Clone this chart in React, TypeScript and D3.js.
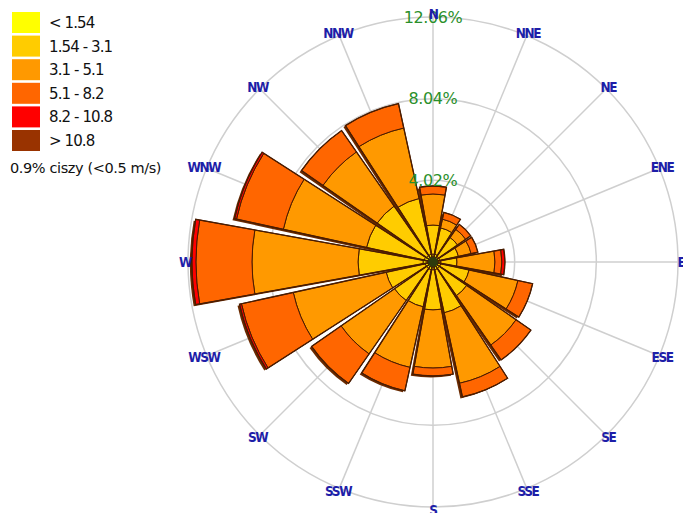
import React from "react";
import * as d3 from "d3";

const DIRECTIONS = ["N", "NNE", "NE", "ENE", "E", "ESE", "SE", "SSE", "S", "SSW", "SW", "WSW", "W", "WNW", "NW", "NNW"];
const SPEED_CLASSES = ["< 1.54", "1.54 - 3.1", "3.1 - 5.1", "5.1 - 8.2", "8.2 - 10.8", "> 10.8"];
const CLASS_COLORS = ["#FFFF00", "#FFCC00", "#FF9900", "#FF6600", "#FF0000", "#993300"];

// percent frequency per direction for each speed class
const s_lt154 = [0.39, 0.39, 0.34, 0.34, 0.39, 0.39, 0.39, 0.39, 0.39, 0.39, 0.39, 0.39, 0.49, 0.44, 0.39, 0.39];
const s_154_31 = [1.43, 1.33, 1.13, 0.94, 0.79, 1.43, 1.63, 2.17, 1.97, 1.87, 1.92, 1.97, 3.2, 2.91, 2.96, 2.81];
const s_31_51 = [1.53, 0.44, 0.49, 0.64, 1.87, 2.46, 2.96, 3.55, 2.86, 3.05, 3.2, 4.68, 5.22, 4.19, 3.25, 3.55];
const s_51_82 = [0.39, 0.34, 0.3, 0.34, 0.34, 0.74, 0.89, 0.69, 0.39, 1.18, 1.77, 2.61, 2.76, 2.36, 1.28, 1.23];
const s_82_108 = [0, 0, 0, 0, 0.15, 0, 0, 0, 0, 0, 0, 0.1, 0.2, 0.1, 0, 0];
const s_gt108 = [0, 0, 0, 0, 0, 0, 0, 0, 0, 0, 0, 0, 0, 0, 0, 0];
const SERIES = [s_lt154, s_154_31, s_31_51, s_51_82, s_82_108, s_gt108];

const RING_VALUES = [4.02, 8.04, 12.06];
const RING_LABELS = ["4.02%", "8.04%", "12.06%"];
const CALM_TEXT = "0.9% ciszy (<0.5 m/s)";

const W = 683, H = 513;
const CX = 433, CY = 262;

export default function App() {
  const r = d3.scaleLinear().domain([0, 12.06]).range([0, 245]);
  const step = (2 * Math.PI) / DIRECTIONS.length;
  const hw = (10.2 * Math.PI) / 180;
  const arc = d3.arc<any>();

  const wedges: any[] = [];
  DIRECTIONS.forEach((d, i) => {
    let cum = 0;
    const a = i * step;
    SERIES.forEach((ser, k) => {
      const v = ser[i];
      if (v <= 0) return;
      wedges.push({ dir: i, k, a, r0: r(cum), r1: r(cum + v) });
      cum += v;
    });
  });
  const totals = DIRECTIONS.map((_, i) => SERIES.reduce((s, ser) => s + ser[i], 0));

  return (
    <svg width={W} height={H} style={{ position: "absolute", left: 0, top: 0, background: "#fff" }}>
      {/* legend */}
      {SPEED_CLASSES.map((lab, k) => (
        <g key={lab} transform={`translate(12,${12 + k * 23.6})`}>
          <rect width={28} height={21} fill={CLASS_COLORS[k]} />
          <text x={37} y={16} fontFamily="DejaVu Sans" fontSize={15} letterSpacing={-0.9} fill="#111">{lab}</text>
        </g>
      ))}
      <text x={10} y={173} fontFamily="DejaVu Sans" fontSize={14.5} letterSpacing={-0.4} fill="#111">{CALM_TEXT}</text>

      <g transform={`translate(${CX},${CY})`}>
        {RING_VALUES.map((v) => (
          <circle key={v} r={r(v)} fill="none" stroke="#cfcfcf" strokeWidth={1.5} />
        ))}
        {DIRECTIONS.map((d, i) => {
          const a = i * step;
          const R = r(12.06);
          return <line key={d} x1={0} y1={0} x2={R * Math.sin(a)} y2={-R * Math.cos(a)} stroke="#cfcfcf" strokeWidth={1.5} />;
        })}
        {/* shadows */}
        {DIRECTIONS.map((d, i) => {
          const a = i * step;
          const path = arc({ innerRadius: 0, outerRadius: r(totals[i]), startAngle: a - hw, endAngle: a + hw } as any) as string;
          return <path key={"sh" + d} d={path} transform="translate(-2,1.5)" fill="#6a2a00" />;
        })}
        {wedges.map((w, j) => (
          <path
            key={j}
            d={arc({ innerRadius: w.r0, outerRadius: w.r1, startAngle: w.a - hw, endAngle: w.a + hw } as any) as string}
            fill={CLASS_COLORS[w.k]}
            stroke="#4a1c00"
            strokeWidth={1}
          />
        ))}
        {DIRECTIONS.map((d, i) => {
          const a = i * step;
          const path = arc({ innerRadius: 0, outerRadius: r(totals[i]), startAngle: a - hw, endAngle: a + hw } as any) as string;
          return <path key={"ol" + d} d={path} fill="none" stroke="#4a1c00" strokeWidth={1.3} />;
        })}
        <circle r={5} fill="#2d3a0c" />
        {RING_VALUES.map((v, k) => (
          <text key={"rl" + v} x={0} y={-r(v)} textAnchor="middle" dominantBaseline="central" fontFamily="DejaVu Sans" fontSize={16} letterSpacing={-0.4} fill="#2a8f2a">{RING_LABELS[k]}</text>
        ))}
        {DIRECTIONS.map((d, i) => {
          const a = i * step;
          const R = 248;
          return (
            <text key={"dl" + d} x={R * Math.sin(a)} y={-R * Math.cos(a)} textAnchor="middle" dominantBaseline="central" fontFamily="DejaVu Sans Condensed, DejaVu Sans" fontWeight="bold" fontSize={13.5} letterSpacing={-1.4} fill="#1e1ea8">{d}</text>
          );
        })}
      </g>
    </svg>
  );
}
